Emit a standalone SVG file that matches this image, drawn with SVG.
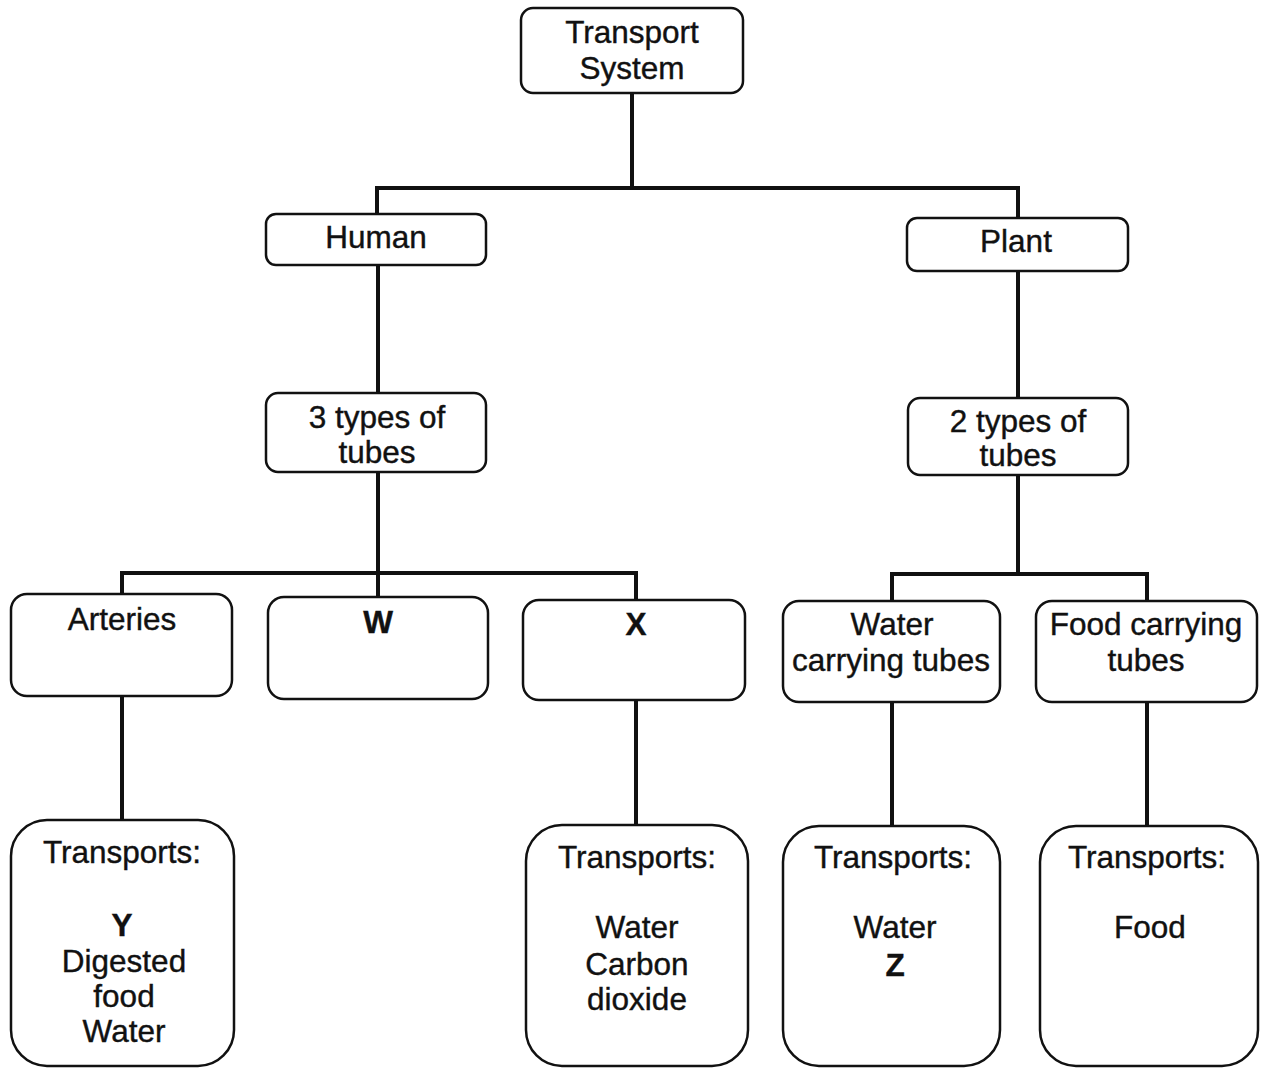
<svg xmlns="http://www.w3.org/2000/svg" width="1267" height="1069" viewBox="0 0 1267 1069">
<style>
.box{fill:#fff;stroke:#111;stroke-width:2.5}
.t{font-family:"Liberation Sans",Arial,sans-serif;font-size:31.5px;fill:#111;stroke:#111;stroke-width:0.4;text-anchor:middle;dominant-baseline:central}
.b{font-weight:bold}
.c{fill:none;stroke:#111;stroke-width:4;stroke-linecap:square}
</style>
<rect width="1267" height="1069" fill="#fff"/>
<g id="connectors">
<path class="c" d="M632 93V188M377 188H1018M377 188V214M1018 188V218"/>
<path class="c" d="M378 265V393M1018 271V398"/>
<path class="c" d="M378 472V573M122 573H636M122 573V594M378 573V597M636 573V600"/>
<path class="c" d="M1018 475V574M892 574H1147M892 574V601M1147 574V601"/>
<path class="c" d="M122 696V820M636 700V825M892 702V826M1147 702V826"/>
</g>
<g id="transport-system"><rect class="box" x="521" y="8" width="222" height="85" rx="12"/><text class="t" x="632" y="32">Transport</text><text class="t" x="632" y="68">System</text></g>
<g id="human"><rect class="box" x="266" y="214" width="220" height="51" rx="10"/><text class="t" x="376" y="237">Human</text></g>
<g id="plant"><rect class="box" x="907" y="218" width="221" height="53" rx="10"/><text class="t" x="1016" y="241">Plant</text></g>
<g id="human-tubes"><rect class="box" x="266" y="393" width="220" height="79" rx="12"/><text class="t" x="377" y="417">3 types of</text><text class="t" x="377" y="452">tubes</text></g>
<g id="plant-tubes"><rect class="box" x="908" y="398" width="220" height="77" rx="12"/><text class="t" x="1018" y="421">2 types of</text><text class="t" x="1018" y="455">tubes</text></g>
<g id="arteries"><rect class="box" x="11" y="594" width="221" height="102" rx="16"/><text class="t" x="122" y="619">Arteries</text></g>
<g id="w"><rect class="box" x="268" y="597" width="220" height="102" rx="16"/><text class="t b" x="378" y="622">W</text></g>
<g id="x"><rect class="box" x="523" y="600" width="222" height="100" rx="16"/><text class="t b" x="636" y="624">X</text></g>
<g id="water-tubes"><rect class="box" x="783" y="601" width="217" height="101" rx="16"/><text class="t" x="892" y="624">Water</text><text class="t" x="891" y="660">carrying tubes</text></g>
<g id="food-tubes"><rect class="box" x="1036" y="601" width="221" height="101" rx="16"/><text class="t" x="1146" y="624">Food carrying</text><text class="t" x="1146" y="660">tubes</text></g>
<g id="arteries-transports"><rect class="box" x="11" y="820" width="223" height="246" rx="36"/><text class="t" x="122" y="852">Transports:</text><text class="t b" x="122" y="925">Y</text><text class="t" x="124" y="961">Digested</text><text class="t" x="124" y="996">food</text><text class="t" x="124" y="1031">Water</text></g>
<g id="x-transports"><rect class="box" x="526" y="825" width="222" height="241" rx="36"/><text class="t" x="637" y="857">Transports:</text><text class="t" x="637" y="927">Water</text><text class="t" x="637" y="964">Carbon</text><text class="t" x="637" y="999">dioxide</text></g>
<g id="water-transports"><rect class="box" x="783" y="826" width="217" height="240" rx="36"/><text class="t" x="893" y="857">Transports:</text><text class="t" x="895" y="927">Water</text><text class="t b" x="895" y="965">Z</text></g>
<g id="food-transports"><rect class="box" x="1040" y="826" width="218" height="240" rx="36"/><text class="t" x="1147" y="857">Transports:</text><text class="t" x="1150" y="927">Food</text></g>
</svg>
